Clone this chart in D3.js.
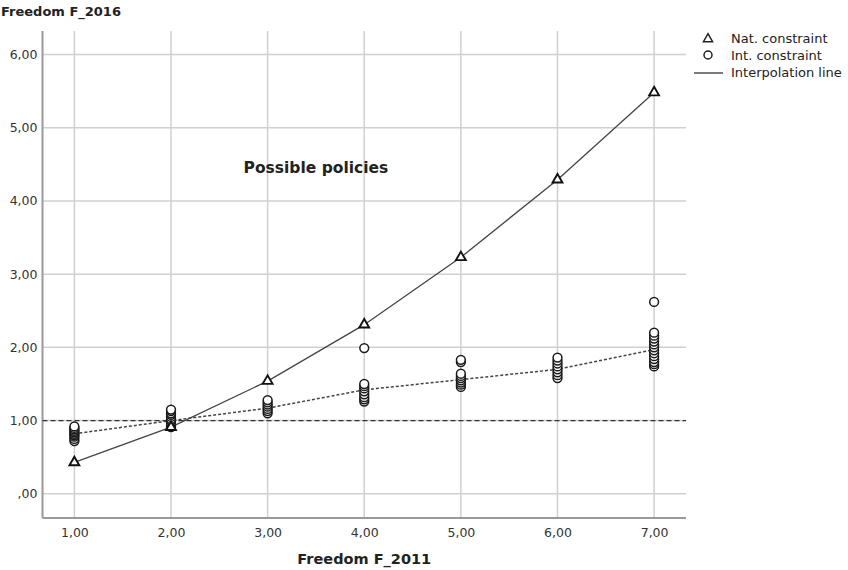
<!DOCTYPE html>
<html><head><meta charset="utf-8">
<script src="https://cdn.jsdelivr.net/npm/d3@7"></script>
<style>body{margin:0;background:#fff;font-family:"DejaVu Sans",sans-serif;}</style>
</head><body><svg id="c" width="848" height="570"></svg>
<script>
const xTicks = [1,2,3,4,5,6,7];
const yTicks = [0,1,2,3,4,5,6];
const natConstraint = [0.43, 0.91, 1.54, 2.31, 3.23, 4.29, 5.48];
const meanLine = [0.82, 1.0, 1.17, 1.42, 1.56, 1.70, 1.97];
const intConstraint = [
  [0.72,0.75,0.78,0.80,0.82,0.84,0.86,0.88,0.90,0.92],
  [0.91,0.94,0.97,1.00,1.02,1.05,1.08,1.10,1.13,1.15],
  [1.10,1.13,1.16,1.19,1.22,1.25,1.28],
  [1.26,1.29,1.32,1.36,1.40,1.44,1.47,1.50,1.99],
  [1.46,1.49,1.52,1.55,1.58,1.61,1.64,1.80,1.83],
  [1.58,1.62,1.66,1.70,1.74,1.78,1.82,1.86],
  [1.74,1.77,1.80,1.84,1.88,1.92,1.96,2.00,2.04,2.08,2.12,2.16,2.20,2.62]
];
const refLine = 1.0;
const legendLabels = ["Nat. constraint","Int. constraint","Interpolation line"];

const FONT = "DejaVu Sans, sans-serif";
const svg = d3.select("#c").attr("font-family", FONT);
const L = 42.5, R = 686, T = 31, B = 518;
const x = d3.scaleLinear().domain([0.67, 7.33]).range([L, R]);
const y = d3.scaleLinear().domain([-0.33, 6.32]).range([B, T]);
const fmt = v => { const s = d3.format(".2f")(v).replace(".", ","); return s.startsWith("0,") ? s.slice(1) : s; };

// gridlines
svg.append("g").selectAll("line").data(xTicks).join("line")
  .attr("x1", d => x(d)).attr("x2", d => x(d)).attr("y1", T).attr("y2", B)
  .attr("stroke", "#d0d0d0").attr("stroke-width", 1.5);
svg.append("g").selectAll("line").data(yTicks).join("line")
  .attr("x1", L).attr("x2", R).attr("y1", d => y(d)).attr("y2", d => y(d))
  .attr("stroke", "#d0d0d0").attr("stroke-width", 1.5);

// axes
const xAxis = svg.append("g").attr("transform", `translate(0,${B})`)
  .call(d3.axisBottom(x).tickValues(xTicks).tickFormat(fmt).tickSize(0).tickPadding(10));
const yAxis = svg.append("g").attr("transform", `translate(${L},0)`)
  .call(d3.axisLeft(y).tickValues(yTicks).tickFormat(fmt).tickSize(0).tickPadding(5));
[xAxis, yAxis].forEach(a => {
  a.select(".domain").attr("stroke", "#999").attr("stroke-width", 2);
  a.selectAll("text").attr("font-family", FONT).attr("font-size", 12.5).attr("fill", "#333");
});
xAxis.select(".domain").attr("d", `M${L},0H${R}`);
yAxis.select(".domain").attr("d", `M0,${T}V${B}`);

// reference dashed line
svg.append("line").attr("x1", L).attr("x2", R).attr("y1", y(refLine)).attr("y2", y(refLine))
  .attr("stroke", "#333").attr("stroke-width", 1.2).attr("stroke-dasharray", "5,3");

// interpolation lines
svg.append("path").datum(natConstraint)
  .attr("d", d3.line().x((d,i) => x(xTicks[i])).y(d => y(d)))
  .attr("fill", "none").attr("stroke", "#444").attr("stroke-width", 1.3);
svg.append("path").datum(meanLine)
  .attr("d", d3.line().x((d,i) => x(xTicks[i])).y(d => y(d)))
  .attr("fill", "none").attr("stroke", "#444").attr("stroke-width", 1.5).attr("stroke-dasharray", "3,2");

// circles
const pts = [];
intConstraint.forEach((arr, i) => arr.forEach(v => pts.push([xTicks[i], v])));
svg.append("g").selectAll("circle").data(pts).join("circle")
  .attr("cx", d => x(d[0])).attr("cy", d => y(d[1])).attr("r", 4.4)
  .attr("fill", "#fff").attr("stroke", "#1a1a1a").attr("stroke-width", 1.5);

// triangles
const tri = d3.symbol().type(d3.symbolTriangle).size(42);
svg.append("g").selectAll("path").data(natConstraint).join("path")
  .attr("d", tri).attr("transform", (d,i) => `translate(${x(xTicks[i])},${y(d)})`)
  .attr("fill", "#fff").attr("stroke", "#111").attr("stroke-width", 1.9);

// annotation
svg.append("text").attr("x", x(3.5)).attr("y", y(4.45) + 5).attr("text-anchor", "middle")
  .attr("font-weight", "bold").attr("font-size", 15.5).attr("fill", "#222").text("Possible policies");

// titles
svg.append("text").attr("x", 1).attr("y", 16).attr("font-weight", "bold").attr("font-size", 13)
  .attr("fill", "#222").text("Freedom F_2016");
svg.append("text").attr("x", (L + R) / 2).attr("y", 564).attr("text-anchor", "middle")
  .attr("font-weight", "bold").attr("font-size", 14.5).attr("fill", "#222").text("Freedom F_2011");

// legend
const lg = svg.append("g");
lg.append("path").attr("d", d3.symbol().type(d3.symbolTriangle).size(36))
  .attr("transform", "translate(708,39)").attr("fill", "#fff").attr("stroke", "#222").attr("stroke-width", 1.5);
lg.append("circle").attr("cx", 708).attr("cy", 55).attr("r", 4).attr("fill", "#fff").attr("stroke", "#222").attr("stroke-width", 1.5);
lg.append("line").attr("x1", 694).attr("x2", 723).attr("y1", 73).attr("y2", 73).attr("stroke", "#333").attr("stroke-width", 1.3);
lg.selectAll("text").data(legendLabels).join("text")
  .attr("x", 731).attr("y", (d,i) => 43 + i * 17).attr("font-size", 13).attr("fill", "#222").text(d => d);
</script></body></html>
